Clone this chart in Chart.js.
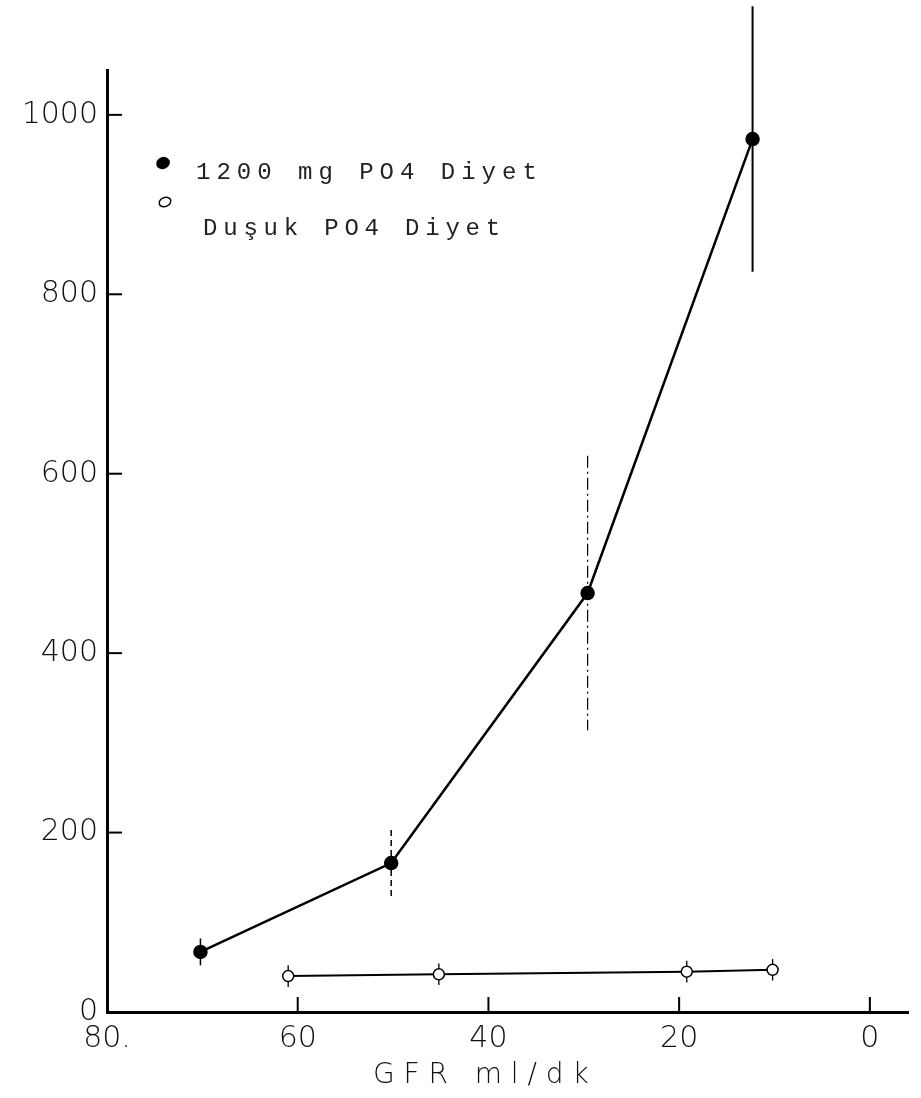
<!DOCTYPE html>
<html>
<head>
<meta charset="utf-8">
<script src="https://cdn.jsdelivr.net/npm/chart.js@4.4.0/dist/chart.umd.min.js"></script>
<style>
  html, body { margin: 0; padding: 0; background: #fff; }
  #wrap { width: 921px; height: 1098px; }
</style>
</head>
<body>
<div id="wrap"><canvas id="myChart" width="921" height="1098"></canvas></div>
<script>
// GFR (ml/dk) and values
const gfrHigh = [70.2, 50.2, 29.6, 12.3];
const valHigh = [67, 166, 467, 973];
const errHigh = [15, 37, 153, 148];

const gfrLow = [61.0, 45.2, 19.2, 10.2];
const valLow = [40, 42, 45, 47];
const errLow = [12, 12, 12, 12];

const xTicks = [80, 60, 40, 20, 0];
const xTickLabels = ['80.', '60', '40', '20', '0'];
const yTicks = [0, 200, 400, 600, 800, 1000];
const yTickLabels = ['0', '200', '400', '600', '800', '1000'];
const legendLabels = ['1200 mg PO4 Diyet', 'Duşuk PO4 Diyet'];
const xTitle = 'G F R   m l / d k      ';

// error bar line styles (dashes as printed)
const errDash = [[], [6, 4], [12, 4, 2, 4], []];
const errWidth = [1.5, 1.5, 1.2, 2];

function toPoints(xs, ys) {
  return xs.map((x, i) => ({ x: x, y: ys[i] }));
}

// drawn before the points so the open circles sit on top
const errorBars = {
  id: 'errorBars',
  beforeDatasetsDraw(chart) {
    const ctx = chart.ctx;
    const xs = chart.scales.x, ys = chart.scales.y;
    ctx.save();
    ctx.strokeStyle = '#000';
    chart.data.datasets.forEach((ds, d) => {
      const errs = ds.errors || [];
      ds.data.forEach((p, i) => {
        const px = xs.getPixelForValue(p.x);
        const top = Math.max(0, ys.getPixelForValue(p.y + errs[i]));
        const bot = ys.getPixelForValue(p.y - errs[i]);
        ctx.lineWidth = d === 0 ? errWidth[i] : 1.3;
        ctx.setLineDash(d === 0 ? errDash[i] : []);
        ctx.beginPath();
        ctx.moveTo(px, top);
        ctx.lineTo(px, bot);
        ctx.stroke();
      });
    });
    ctx.restore();
  }
};

// inward tick marks + typed legend
const decorations = {
  id: 'decorations',
  afterDraw(chart) {
    const ctx = chart.ctx;
    const xs = chart.scales.x, ys = chart.scales.y;
    const area = chart.chartArea;
    ctx.save();
    ctx.strokeStyle = '#000';
    ctx.lineWidth = 2;
    yTicks.slice(1).forEach(v => {
      const py = ys.getPixelForValue(v);
      ctx.beginPath();
      ctx.moveTo(area.left, py);
      ctx.lineTo(area.left + 15, py);
      ctx.stroke();
    });
    xTicks.slice(1).forEach(v => {
      const px = xs.getPixelForValue(v);
      ctx.beginPath();
      ctx.moveTo(px, area.bottom);
      ctx.lineTo(px, area.bottom - 15);
      ctx.stroke();
    });

    // legend markers
    ctx.fillStyle = '#000';
    ctx.beginPath();
    ctx.ellipse(163, 163, 7, 6, -0.4, 0, Math.PI * 2);
    ctx.fill();
    ctx.lineWidth = 1.5;
    ctx.beginPath();
    ctx.ellipse(165, 202, 6, 4.5, -0.4, 0, Math.PI * 2);
    ctx.stroke();

    // typewriter text, fixed pitch
    ctx.font = '24px "Liberation Mono"';
    ctx.fillStyle = '#222';
    ctx.textBaseline = 'alphabetic';
    const drawTyped = (txt, x, y, pitch) => {
      for (let i = 0; i < txt.length; i++) ctx.fillText(txt[i], x + i * pitch, y);
    };
    drawTyped(legendLabels[0], 196, 179, 20.4);
    drawTyped(legendLabels[1], 203, 235, 20.2);
    ctx.restore();
  }
};

const tickFont = { family: 'DejaVu Sans', size: 30, weight: 200 };

new Chart(document.getElementById('myChart').getContext('2d'), {
  type: 'line',
  data: {
    datasets: [{
      label: legendLabels[0],
      data: toPoints(gfrHigh, valHigh),
      errors: errHigh,
      borderColor: '#000',
      borderWidth: 2.5,
      pointRadius: 6,
      pointBackgroundColor: '#000',
      pointBorderColor: '#000',
      tension: 0
    }, {
      label: legendLabels[1],
      data: toPoints(gfrLow, valLow),
      errors: errLow,
      borderColor: '#000',
      borderWidth: 2,
      pointRadius: 5.5,
      pointBorderWidth: 1.5,
      pointBackgroundColor: '#fff',
      pointBorderColor: '#000',
      tension: 0
    }]
  },
  options: {
    responsive: false,
    animation: false,
    layout: { padding: { top: 70, right: 13, left: 0, bottom: 0 } },
    scales: {
      x: {
        type: 'linear',
        reverse: true,
        min: -4,
        max: 80,
        afterBuildTicks: scale => { scale.ticks = xTicks.map(v => ({ value: v })); },
        afterFit: scale => { scale.height = 86; },
        grid: { display: false, drawTicks: false },
        border: { display: true, color: '#000', width: 3 },
        ticks: {
          color: '#111',
          font: tickFont,
          padding: 9,
          maxRotation: 0,
          callback: v => xTickLabels[xTicks.indexOf(v)]
        },
        title: {
          display: true,
          text: xTitle,
          color: '#111',
          font: { family: 'DejaVu Sans', size: 28, weight: 200 },
          padding: { top: 0, bottom: 5 }
        }
      },
      y: {
        min: 0,
        max: 1050,
        afterBuildTicks: scale => { scale.ticks = yTicks.map(v => ({ value: v })); },
        afterFit: scale => { scale.width = 107; },
        grid: { display: false, drawTicks: false },
        border: { display: true, color: '#000', width: 3 },
        ticks: {
          color: '#111',
          font: tickFont,
          padding: 9,
          callback: v => yTickLabels[yTicks.indexOf(v)]
        }
      }
    },
    plugins: {
      legend: { display: false },
      tooltip: { enabled: false }
    }
  },
  plugins: [errorBars, decorations]
});
</script>
</body>
</html>
